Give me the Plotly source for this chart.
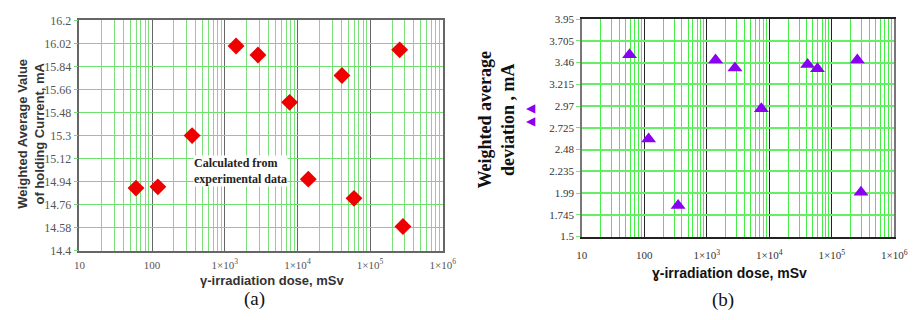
import plotly.graph_objects as go

# ---- data ----
a_dose = [60, 120, 355, 1430, 2860, 7800, 14100, 41000, 60000, 255000, 283000]
a_val = [14.89, 14.90, 15.30, 16.00, 15.93, 15.56, 14.96, 15.77, 14.81, 15.97, 14.59]

b_dose = [58, 117, 347, 1380, 2820, 7460, 41000, 59000, 256000, 293000]
b_val = [3.55, 2.60, 1.85, 3.49, 3.40, 2.94, 3.44, 3.39, 3.49, 2.00]

x_tickvals = [10, 100, 1e3, 1e4, 1e5, 1e6]
x_ticktext = ["10", "100", "1×10<sup>3</sup>", "1×10<sup>4</sup>", "1×10<sup>5</sup>", "1×10<sup>6</sup>"]
a_ytick = [14.4, 14.58, 14.76, 14.94, 15.12, 15.3, 15.48, 15.66, 15.84, 16.02, 16.2]
a_ytext = ["14.4", "14.58", "14.76", "14.94", "15.12", "15.3", "15.48", "15.66", "15.84", "16.02", "16.2"]
b_ytick = [1.5, 1.745, 1.99, 2.235, 2.48, 2.725, 2.97, 3.215, 3.46, 3.705, 3.95]
b_ytext = ["1.5", "1.745", "1.99", "2.235", "2.48", "2.725", "2.97", "3.215", "3.46", "3.705", "3.95"]

minor_vals = [k * 10 ** d for d in range(1, 6) for k in range(2, 10)]

SERIF = "Liberation Serif, Times New Roman, serif"
SANS = "Liberation Sans, Arial, sans-serif"

fig = go.Figure()
fig.add_trace(go.Scatter(x=a_dose, y=a_val, mode="markers", xaxis="x", yaxis="y",
                         marker=dict(symbol="diamond", size=13, color="#ee0000"),
                         showlegend=False))
fig.add_trace(go.Scatter(x=b_dose, y=b_val, mode="markers", xaxis="x2", yaxis="y2",
                         marker=dict(symbol="triangle-up", size=13, color="#8a00f0"),
                         showlegend=False))


def xaxis(domain, anchor, major_col, minor_col, font_col, tlen):
    return dict(domain=domain, anchor=anchor, type="log", range=[1, 6],
                tickmode="array", tickvals=x_tickvals, ticktext=x_ticktext,
                showgrid=True, gridcolor=major_col, gridwidth=1.3,
                minor=dict(tickmode="array", tickvals=minor_vals, showgrid=True,
                           gridcolor=minor_col, gridwidth=1.2, ticks=""),
                showline=True, linecolor=major_col, linewidth=1.5, mirror=True,
                ticks="outside", ticklen=tlen, tickcolor="rgba(0,0,0,0)",
                tickfont=dict(family=SERIF, size=11, color=font_col),
                zeroline=False)


def yaxis(domain, anchor, tv, tt, grid_col, gw, line_col, font_col, fsize):
    return dict(domain=domain, anchor=anchor, range=[tv[0], tv[-1]],
                tickmode="array", tickvals=tv, ticktext=tt,
                showgrid=True, gridcolor=grid_col, gridwidth=gw,
                showline=True, linecolor=line_col, linewidth=1.5, mirror=True,
                ticks="outside", ticklen=4, tickcolor=grid_col,
                tickfont=dict(family=SERIF, size=fsize, color=font_col),
                zeroline=False)


fig.update_layout(
    width=920, height=320, margin=dict(l=0, r=0, t=0, b=0),
    paper_bgcolor="white", plot_bgcolor="white",
    xaxis=xaxis([75 / 920, 446 / 920], "y", "#666666", "#7ae07a", "#555555", 3),
    yaxis=yaxis([1 - 255 / 320, 1 - 14 / 320], "x", a_ytick, a_ytext, "#6ee06e", 1.3, "#666666", "#555555", 12),
    xaxis2=xaxis([588 / 920, 907 / 920], "y2", "#222222", "#44ee44", "#333333", 8),
    yaxis2=yaxis([1 - 240 / 320, 1 - 12.7 / 320], "x2", b_ytick, b_ytext, "#66ee66", 2, "#777777", "#333333", 11),
)

ann = [
    dict(x=26 / 920, y=1 - 132 / 320, text="<b>Weighted Average Value<br>of holding Current, mA</b>",
         textangle=-90, font=dict(family=SANS, size=13, color="#333333")),
    dict(x=272 / 920, y=1 - 286 / 320, text="<b>γ-irradiation dose, mSv</b>",
         font=dict(family=SANS, size=13, color="#333333")),
    dict(x=254 / 920, y=1 - 305 / 320, text="(a)", font=dict(family=SERIF, size=19, color="#111111")),
    dict(x=191 / 920, y=1 - 171 / 320, xanchor="left", align="left",
         text="<b>Calculated from<br>experimental data</b>", bgcolor="white", borderpad=0,
         font=dict(family=SERIF, size=12, color="#222222")),
    dict(x=501 / 920, y=1 - 118 / 320, text="<b>Weighted average<br>deviation , mA</b>",
         textangle=-90, font=dict(family=SERIF, size=18, color="#111111")),
    dict(x=536 / 920, y=1 - 106 / 320, text="◀", font=dict(family="DejaVu Sans", size=12, color="#8a00f0")),
    dict(x=536 / 920, y=1 - 119 / 320, text="◀", font=dict(family="DejaVu Sans", size=12, color="#8a00f0")),
    dict(x=739 / 920, y=1 - 278 / 320, text="<b>ɣ-irradiation dose, mSv</b>",
         font=dict(family=SANS, size=14, color="#111111")),
    dict(x=732 / 920, y=1 - 306 / 320, text="(b)", font=dict(family=SERIF, size=19, color="#111111")),
]
for a in ann:
    a.setdefault("xref", "paper")
    a.setdefault("yref", "paper")
    a.setdefault("showarrow", False)
    a.setdefault("xanchor", "center")
    a.setdefault("yanchor", "middle")
fig.update_layout(annotations=ann)

fig.write_html("out.html")
